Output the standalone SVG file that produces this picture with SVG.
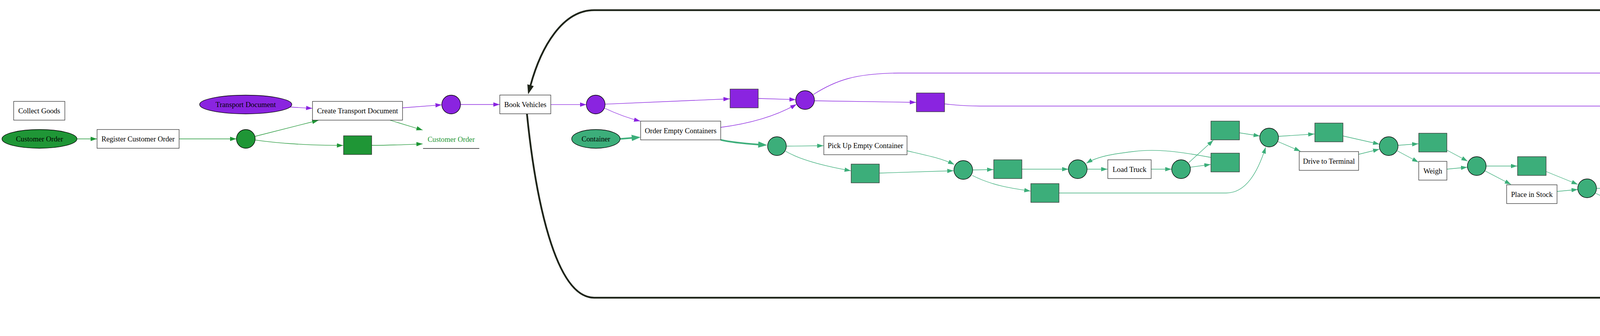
<svg xmlns="http://www.w3.org/2000/svg" width="6193" height="860" viewBox="0 0 6193 860">
<defs>
<style>
text{font-family:"Liberation Serif","Times New Roman",serif;font-size:18.67px;text-anchor:middle;fill:#000}
.box{fill:#fff;stroke:#333;stroke-width:1.3}
.cP{fill:#8a24e0;stroke:#000;stroke-width:1.3}
.cT{fill:#3cae7a;stroke:#000;stroke-width:1.3}
.cG{fill:#1f9636;stroke:#000;stroke-width:1.3}
.cK{fill:#1e2419;stroke:#000;stroke-width:1.3}
.rP{fill:#8a24e0;stroke:#333;stroke-width:1.3}
.rT{fill:#3cae7a;stroke:#333;stroke-width:1.3}
.rG{fill:#1f9636;stroke:#333;stroke-width:1.3}
.rK{fill:#1e2419;stroke:#333;stroke-width:1.3}
.u{stroke:#222;stroke-width:1.3}
#edges path{fill:none;stroke-width:1.3}
#edges .P{stroke:#8a24e0;marker-end:url(#aP)}
#edges .T{stroke:#3cae7a;marker-end:url(#aT)}
#edges .G{stroke:#1f9636;marker-end:url(#aG)}
#edges .K{stroke:#1e2419;marker-end:url(#aK)}
#edges .PW{stroke:#8a24e0;stroke-width:4;marker-end:url(#aPW)}
#edges .TW{stroke:#3cae7a;stroke-width:4;marker-end:url(#aTW)}
#edges .KW{stroke:#1e2419;stroke-width:4.5;marker-end:url(#aKW)}
</style>
<marker id="aP" markerUnits="userSpaceOnUse" markerWidth="16" markerHeight="11" refX="16" refY="5.5" orient="auto"><path d="M0,0L16,5.5L0,11z" fill="#8a24e0"/></marker>
<marker id="aT" markerUnits="userSpaceOnUse" markerWidth="16" markerHeight="11" refX="16" refY="5.5" orient="auto"><path d="M0,0L16,5.5L0,11z" fill="#3cae7a"/></marker>
<marker id="aG" markerUnits="userSpaceOnUse" markerWidth="16" markerHeight="11" refX="16" refY="5.5" orient="auto"><path d="M0,0L16,5.5L0,11z" fill="#1f9636"/></marker>
<marker id="aK" markerUnits="userSpaceOnUse" markerWidth="16" markerHeight="11" refX="16" refY="5.5" orient="auto"><path d="M0,0L16,5.5L0,11z" fill="#1e2419"/></marker>
<marker id="aPW" markerUnits="userSpaceOnUse" markerWidth="23" markerHeight="16" refX="1" refY="8" orient="auto"><path d="M0,0L23,8L0,16z" fill="#8a24e0"/></marker>
<marker id="aTW" markerUnits="userSpaceOnUse" markerWidth="23" markerHeight="16" refX="1" refY="8" orient="auto"><path d="M0,0L23,8L0,16z" fill="#3cae7a"/></marker>
<marker id="aKW" markerUnits="userSpaceOnUse" markerWidth="24" markerHeight="17" refX="1" refY="8.5" orient="auto"><path d="M0,0L24,8.5L0,17z" fill="#1e2419"/></marker>
</defs>
<rect width="6193" height="860" fill="#fff"/>

<g id="edges">
<path class="KW" d="M5328,477 C5290,270 5210,26 5140,26 L1521,26 C1440,26 1385,120 1358,219"/>
<path class="KW" d="M1349,291.5 C1370,500 1420,762 1521,762 L4852,762 C4930,762 4990,720 5027,673"/>
<path class="G" d="M197,355.5 L248,355.5"/>
<path class="G" d="M458.5,355.5 L605,355.5"/>
<path class="G" d="M653,349 L815,308"/>
<path class="G" d="M653,358.3 C700,365 780,372 878.5,372.3"/>
<path class="G" d="M998,307.5 L1082,333"/>
<path class="G" d="M951.7,372 C1000,372 1040,370 1082,368.3"/>
<path class="P" d="M743,274 L799.5,277.3"/>
<path class="P" d="M1030.7,276 L1130.7,268.3"/>
<path class="P" d="M1179.3,267.5 L1279,267.5"/>
<path class="P" d="M1410,267.7 L1501,267.7"/>
<path class="P" d="M1549,266.6 L1868,253"/>
<path class="P" d="M1548,277 C1580,292 1610,303 1639,310"/>
<path class="P" d="M1941,252 L2037,255"/>
<path class="P" d="M1845,326 C1930,315 1990,295 2039,267"/>
<path class="P" d="M2082,242 C2140,205 2190,188 2300,187 L4400,187 C4470,187 4500,181 4530,179"/>
<path class="P" d="M2085,258 L2345,262"/>
<path class="P" d="M2418,266 C2440,268 2460,271.5 2508,271.5 L4846,271.5 C4900,271.5 4930,277 5000,277 L5703,277 C5740,277 5760,271 5785,262"/>
<path class="P" d="M4603.5,174 L4712,174"/>
<path class="P" d="M4593,150 C4630,108 4680,77 4740,77 L5309,78"/>
<path class="P" d="M4760,168 C4790,160 4820,152 4847,147"/>
<path class="P" d="M4760,182 C4790,192 4815,198 4847,203"/>
<path class="P" d="M4920,145 C4960,152 4995,160 5034,173"/>
<path class="P" d="M4906,234 C4960,305 4980,370 5000,392 C5012,404 5024,409 5040,413"/>
<path class="P" d="M5080,192 C5120,210 5150,226 5200,226 L5582,226 C5620,226 5640,223 5657,222"/>
<path class="P" d="M4600,510 L4715,421"/>
<path class="P" d="M4760,392 C4790,372 4815,360 4847,350"/>
<path class="P" d="M4761,405 L4847,405"/>
<path class="P" d="M4920.5,409 L5034,424"/>
<path class="P" d="M4906,309 C4935,270 4950,240 4965,218 C4985,195 5005,190 5034,185"/>
<path class="P" d="M5034,432 C4920,448 4780,475 4645,508"/>
<path class="P" d="M5357.5,78 L5432,78"/>
<path class="P" d="M5355,90 L5432,134"/>
<path class="P" d="M5505.5,95 L5559,119"/>
<path class="P" d="M5477,181 L5573,574"/>
<path class="P" d="M5470,366 C5470,290 5480,210 5510,172 C5525,152 5540,143 5558,137"/>
<path class="P" d="M5602,145 L5660,190"/>
<path class="P" d="M5731,229 L5785,247"/>
<path class="P" d="M5832,255.6 L5885,255.6"/>
<path class="P" d="M5957.7,255.6 L6009,256"/>
<path class="PW" d="M5228,688 L5296,629"/>
<path class="P" d="M5349,578 C5380,540 5420,470 5453,416"/>
<path class="P" d="M5357.5,598 L5432,598"/>
<path class="P" d="M5505.5,598 L5557,598"/>
<path class="PW" d="M5570,619 C5520,710 5440,800 5370,815 C5310,828 5265,815 5248,790 L5229,758"/>
<path class="K" d="M5101,368.6 L5160,384"/>
<path class="K" d="M5230,420 L5313,486"/>
<path class="K" d="M5309,503 L4661,529.4"/>
<path class="K" d="M5309,507 L4957,606"/>
<path class="K" d="M5234,608 C5255,598 5265,590 5280,570 L5318,521"/>
<path class="K" d="M4660,544 C4800,560 4940,585 4990,600 C5010,606 5022,612 5035,619"/>
<path class="K" d="M4954,628.6 L5033,628.6"/>
<path class="K" d="M5082,627 L5160,623.5"/>
<path class="K" d="M5079,642 L5161,690"/>
<path class="K" d="M5234,708 L5293,701.7"/>
<path class="TW" d="M1588,355.5 L1618,353"/>
<path class="TW" d="M1845,358 C1870,364 1900,367 1942,370"/>
<path class="T" d="M2013,374 L2108,373"/>
<path class="T" d="M2011,387 C2050,410 2110,425 2178,437"/>
<path class="T" d="M2322,386 C2370,397 2410,405 2443,421"/>
<path class="T" d="M2251.5,443 L2441,437"/>
<path class="T" d="M2490,435 L2543,434"/>
<path class="T" d="M2489,449 C2540,475 2590,482 2638,489"/>
<path class="T" d="M2615.6,433 L2735,433"/>
<path class="T" d="M2783,433 L2835,433"/>
<path class="T" d="M2946.6,433 L2999,433"/>
<path class="T" d="M3043.6,416 L3106,359"/>
<path class="T" d="M3047,428 L3099,421"/>
<path class="T" d="M3100,403 C3020,388 2960,380 2900,388 C2850,394 2810,400 2781,418"/>
<path class="T" d="M3173,340 L3225,348"/>
<path class="T" d="M2711,494 L3139,494 C3190,494 3220,440 3240,377"/>
<path class="T" d="M3273,349 L3365,343"/>
<path class="T" d="M3270.6,362 L3329,387"/>
<path class="T" d="M3438,348 L3531,369"/>
<path class="T" d="M3478,395 L3531,382"/>
<path class="T" d="M3579,372 L3631,368"/>
<path class="T" d="M3577,386 L3631,415"/>
<path class="T" d="M3703.6,384 L3757,412.5"/>
<path class="T" d="M3703.6,433 L3756,428"/>
<path class="T" d="M3804,425 L3884,425"/>
<path class="T" d="M3801,437 L3868,472"/>
<path class="T" d="M3958,439 L4039,472"/>
<path class="T" d="M3986,490 L4039,485"/>
<path class="T" d="M4087,482 L4194,482"/>
<path class="T" d="M4084,494 C4110,508 4135,518 4158,529"/>
<path class="T" d="M4267,494 L4375,529"/>
<path class="T" d="M4321.6,545 L4374,541"/>
<path class="T" d="M4422,539 L4474,538"/>
<path class="T" d="M4422,551 L4530,612"/>
<path class="T" d="M4607,558 L4713,625"/>
<path class="T" d="M4603.5,649 C4630,660 4670,668 4713,652"/>
<path class="T" d="M4761,638 L4812,634"/>
<path class="T" d="M4760,650 L4846,687"/>
<path class="T" d="M4938,653 C4970,680 5000,720 5042,779"/>
<path class="T" d="M4892,725 C4905,790 4950,860 4995,855 C5015,852 5030,835 5040,823"/>
<path class="TW" d="M5081,788 L5142,749"/>
<path class="T" d="M5082,801 L5160,801"/>
<path class="TW" d="M5234,728 L5265,743"/>
<path class="T" d="M5234,802 L5285,793"/>
</g>

<g id="n_collect"><rect class="box" x="35" y="259.5" width="131" height="48"/><text x="100.5" y="290.3">Collect Goods</text></g>
<g id="n_custorder"><ellipse class="cG" cx="101" cy="355.5" rx="96" ry="24"/><text x="101" y="362.3">Customer Order</text></g>
<g id="n_register"><rect class="box" x="248.5" y="331.5" width="210" height="48"/><text x="353.5" y="362.3">Register Customer Order</text></g>
<g id="n_g1"><circle class="cG" cx="629.3" cy="355.5" r="24"/></g>
<g id="n_tdoc"><ellipse class="cP" cx="629" cy="267.5" rx="118" ry="24"/><text x="629" y="274.3">Transport Document</text></g>
<g id="n_createtd"><rect class="box" x="800" y="259.5" width="230.5" height="48"/><text x="915.3" y="290.3">Create Transport Document</text></g>
<g id="n_grect"><rect class="rG" x="879.5" y="347.5" width="72" height="48"/></g>
<g id="n_lbl_custorder"><text x="1155" y="362.7" style="fill:#1f9636">Customer Order</text><line class="u" x1="1083" y1="380" x2="1227" y2="380"/></g>
<g id="n_p0"><circle class="cP" cx="1155" cy="267.5" r="24"/></g>
<g id="n_book"><rect class="box" x="1279.5" y="243.3" width="130.5" height="48"/><text x="1344.8" y="274.1">Book Vehicles</text></g>
<g id="n_p1"><circle class="cP" cx="1525" cy="267.5" r="24"/></g>
<g id="n_rA"><rect class="rP" x="1869" y="228" width="72" height="48"/></g>
<g id="n_p2"><circle class="cP" cx="2061" cy="256" r="24"/></g>
<g id="n_oec"><rect class="box" x="1640" y="310" width="205" height="48"/><text x="1742.5" y="340.8">Order Empty Containers</text></g>
<g id="n_container"><ellipse class="cT" cx="1525.5" cy="355.5" rx="62" ry="24"/><text x="1525.5" y="362.3">Container</text></g>
<g id="n_t1"><circle class="cT" cx="1989" cy="374" r="24"/></g>
<g id="n_pickup"><rect class="box" x="2109" y="348" width="213" height="48"/><text x="2215.5" y="378.8">Pick Up Empty Container</text></g>
<g id="n_tr1"><rect class="rT" x="2179" y="420" width="72" height="48"/></g>
<g id="n_rB"><rect class="rP" x="2346" y="238" width="72" height="48"/></g>
<g id="n_c1"><circle class="cT" cx="2466" cy="435" r="24"/></g>
<g id="n_r1"><rect class="rT" x="2544" y="409" width="72" height="48"/></g>
<g id="n_r2"><rect class="rT" x="2639" y="470" width="72" height="48"/></g>
<g id="n_c2"><circle class="cT" cx="2759" cy="433" r="24"/></g>
<g id="n_loadtruck"><rect class="box" x="2836" y="409" width="111" height="48"/><text x="2891.5" y="439.8">Load Truck</text></g>
<g id="n_c3"><circle class="cT" cx="3023.5" cy="433" r="24"/></g>
<g id="n_r3"><rect class="rT" x="3100" y="310" width="73" height="48"/></g>
<g id="n_r4"><rect class="rT" x="3100" y="392" width="73" height="48"/></g>
<g id="n_c4"><circle class="cT" cx="3249" cy="352" r="24"/></g>
<g id="n_r5"><rect class="rT" x="3366" y="315" width="72" height="48"/></g>
<g id="n_drive"><rect class="box" x="3326" y="388" width="152" height="48"/><text x="3402" y="418.8">Drive to Terminal</text></g>
<g id="n_c5"><circle class="cT" cx="3555" cy="374" r="24"/></g>
<g id="n_r6"><rect class="rT" x="3632" y="341" width="72" height="48"/></g>
<g id="n_weigh"><rect class="box" x="3632" y="413" width="72" height="48"/><text x="3668" y="443.8">Weigh</text></g>
<g id="n_c6"><circle class="cT" cx="3780.5" cy="425" r="24"/></g>
<g id="n_r7"><rect class="rT" x="3885" y="401" width="73" height="48"/></g>
<g id="n_place"><rect class="box" x="3857" y="473" width="129" height="48"/><text x="3921.5" y="503.8">Place in Stock</text></g>
<g id="n_c7"><circle class="cT" cx="4063" cy="482" r="24"/></g>
<g id="n_r8"><rect class="rT" x="4195" y="458" width="72" height="48"/></g>
<g id="n_bring"><rect class="box" x="4140" y="530" width="182" height="48"/><text x="4231" y="560.8">Bring to Loading Bay</text></g>
<g id="n_c8"><circle class="cT" cx="4398.5" cy="539.5" r="24"/></g>
<g id="n_resched"><rect class="box" x="4475" y="510" width="185" height="48"/><text x="4567.5" y="540.8">Reschedule Container</text></g>
<g id="n_r9"><rect class="rT" x="4531.5" y="609" width="72" height="48"/></g>
<g id="n_c9"><circle class="cT" cx="4737" cy="640" r="24"/></g>
<g id="n_loadveh"><rect class="box" x="4813" y="605" width="141" height="48"/><text x="4883.5" y="635.8">Load to Vehicle</text></g>
<g id="n_r10"><rect class="rT" x="4848" y="677" width="72" height="48"/></g>
<g id="n_bc1"><circle class="cK" cx="5058" cy="629" r="24"/></g>
<g id="n_c10"><circle class="cT" cx="5058" cy="801" r="24"/></g>
<g id="n_r11"><rect class="rT" x="5161.5" y="777" width="72" height="48"/></g>
<g id="n_depart"><rect class="box" x="5161.5" y="689" width="72" height="48"/><text x="5197.5" y="719.8">Depart</text></g>
<g id="n_br1"><rect class="rK" x="5161.5" y="371" width="72" height="48"/></g>
<g id="n_br2"><rect class="rK" x="5161.5" y="597" width="72" height="48"/></g>
<g id="n_vehicle"><ellipse class="cK" cx="5058" cy="355" rx="51" ry="24"/><text x="5058" y="361.8">Vehicle</text></g>
<g id="n_bc2"><circle class="cK" cx="5333.5" cy="501" r="24"/></g>
<g id="n_lbl_vehicle"><text x="5333.5" y="703">Vehicle</text><line class="u" x1="5295" y1="721" x2="5372" y2="721"/></g>
<g id="n_lbl_container"><text x="5333.5" y="783" style="fill:#3cae7a">Container</text><line class="u" x1="5287" y1="799" x2="5379" y2="799"/></g>
<g id="n_pr1"><rect class="rP" x="4531.5" y="150" width="72" height="48"/></g>
<g id="n_p1b"><circle class="cP" cx="4737" cy="174" r="24"/></g>
<g id="n_pr2"><rect class="rP" x="4848" y="114" width="72" height="48"/></g>
<g id="n_pr3"><rect class="rP" x="4848" y="186" width="72" height="48"/></g>
<g id="n_p2b"><circle class="cP" cx="5058" cy="181" r="24"/></g>
<g id="n_p4"><circle class="cP" cx="4737" cy="405" r="24"/></g>
<g id="n_pr4"><rect class="rP" x="4848" y="309" width="72" height="48"/></g>
<g id="n_pr5"><rect class="rP" x="4848" y="381" width="72" height="48"/></g>
<g id="n_p3"><circle class="cP" cx="5058" cy="427.6" r="24"/></g>
<g id="n_p5"><circle class="cP" cx="5333.5" cy="78" r="24"/></g>
<g id="n_pr6"><rect class="rP" x="5433" y="54" width="72" height="48"/></g>
<g id="n_pr7"><rect class="rP" x="5433" y="133" width="72" height="48"/></g>
<g id="n_p6"><circle class="cP" cx="5581.7" cy="130" r="24"/></g>
<g id="n_pr8"><rect class="rP" x="5433" y="366" width="72" height="48"/></g>
<g id="n_p9"><circle class="cP" cx="5333.5" cy="598" r="24"/></g>
<g id="n_pr11"><rect class="rP" x="5433" y="574" width="72" height="48"/></g>
<g id="n_p8"><circle class="cP" cx="5581.7" cy="598" r="24"/></g>
<g id="n_pr9"><rect class="rP" x="5659" y="191.5" width="72" height="48"/></g>
<g id="n_p7"><circle class="cP" cx="5808" cy="255.6" r="24"/></g>
<g id="n_pr10"><rect class="rP" x="5885" y="231.5" width="72" height="48"/></g>
<g id="n_lbl_td"><text x="6098.5" y="263.5" style="fill:#8a24e0">Transport Document</text><line class="u" x1="6010" y1="280" x2="6187" y2="280"/></g>
</svg>
